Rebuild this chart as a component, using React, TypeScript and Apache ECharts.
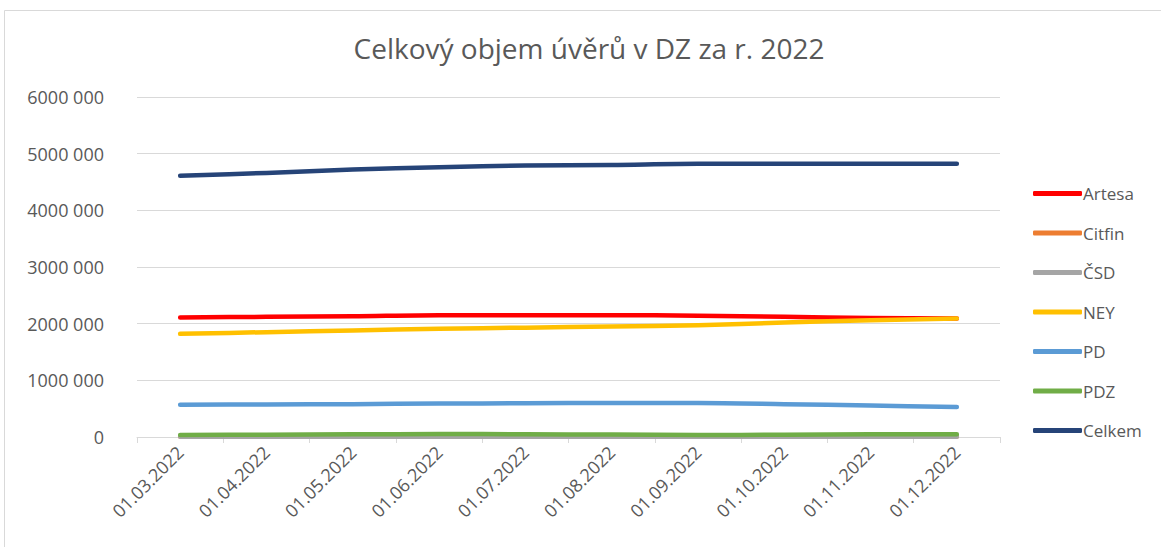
import React, { useEffect, useRef } from "react";
import * as echarts from "echarts";

const categories = ["01.03.2022", "01.04.2022", "01.05.2022", "01.06.2022", "01.07.2022", "01.08.2022", "01.09.2022", "01.10.2022", "01.11.2022", "01.12.2022"];
const artesa = [2110000, 2120000, 2130000, 2150000, 2150000, 2150000, 2140000, 2120000, 2100000, 2090000];
const citfin = [8000, 8000, 9000, 9000, 9000, 9000, 9000, 8000, 8000, 8000];
const csd = [3000, 3000, 3000, 3000, 3000, 3000, 3000, 3000, 3000, 3000];
const ney = [1820000, 1850000, 1880000, 1910000, 1930000, 1950000, 1970000, 2020000, 2060000, 2090000];
const pd = [570000, 575000, 580000, 590000, 595000, 600000, 600000, 580000, 555000, 530000];
const pdz = [35000, 40000, 48000, 52000, 50000, 42000, 35000, 40000, 48000, 50000];
const celkem = [4610000, 4660000, 4720000, 4760000, 4790000, 4800000, 4820000, 4820000, 4820000, 4820000];

const seriesNames = ["Artesa", "Citfin", "ČSD", "NEY", "PD", "PDZ", "Celkem"];
const seriesData = [artesa, citfin, csd, ney, pd, pdz, celkem];
const seriesColors = ["#ff0000", "#ed7d31", "#a5a5a5", "#ffc000", "#5b9bd5", "#70ad47", "#264478"];

const yTicks = { min: 0, max: 6000000, interval: 1000000 };
const title = "Celkový objem úvěrů v DZ za r. 2022";

export default function App() {
  const ref = useRef<HTMLDivElement>(null);
  useEffect(() => {
    if (!ref.current) return;
    const chart = echarts.init(ref.current, undefined, { renderer: "svg" });
    const font = "'Open Sans', 'Noto Sans', sans-serif";
    chart.setOption({
      animation: false,
      backgroundColor: "#ffffff",
      textStyle: { fontFamily: font },
      title: {
        text: title,
        left: 584,
        textAlign: "center",
        top: 29,
        textStyle: { fontSize: 28, fontWeight: "normal", color: "#595959", fontFamily: font },
      },
      graphic: [
        {
          type: "rect",
          shape: { x: 4.5, y: 10.5, width: 1200, height: 600 },
          style: { fill: "none", stroke: "#d9d9d9", lineWidth: 1 },
          silent: true,
        },
      ],
      grid: { left: 137, right: 161, top: 97, bottom: 110 },
      legend: {
        orient: "vertical",
        left: 1033,
        top: 185,
        padding: 0,
        icon: "roundRect",
        itemWidth: 49,
        itemHeight: 5,
        itemGap: 22.5,
        textStyle: { fontSize: 17, color: "#595959", fontFamily: font, padding: [0, 0, 0, -4] },
        data: seriesNames,
      },
      xAxis: {
        type: "category",
        data: categories,
        boundaryGap: true,
        axisLine: { lineStyle: { color: "#d9d9d9", width: 1 } },
        axisTick: { show: true, length: 6, lineStyle: { color: "#d9d9d9" } },
        axisLabel: { rotate: 45, fontSize: 18, color: "#595959", margin: 12, fontFamily: font, interval: 0 },
      },
      yAxis: {
        type: "value",
        min: yTicks.min,
        max: yTicks.max,
        interval: yTicks.interval,
        axisLine: { show: false },
        axisTick: { show: false },
        splitLine: { lineStyle: { color: "#d9d9d9", width: 1 } },
        axisLabel: {
          fontSize: 18,
          color: "#595959",
          margin: 33,
          fontFamily: font,
          formatter: (v: number) => (v === 0 ? "0" : `${Math.round(v / 1000)} 000`),
        },
      },
      series: seriesNames.map((name, i) => ({
        name,
        type: "line",
        data: seriesData[i],
        smooth: 0.3,
        symbol: "none",
        color: seriesColors[i],
        lineStyle: { width: 4.5, color: seriesColors[i], cap: "round", join: "round" },
      })),
    });
    return () => chart.dispose();
  }, []);
  return (
    <div
      ref={ref}
      style={{ position: "fixed", left: 0, top: 0, width: 1161, height: 547 }}
    />
  );
}
